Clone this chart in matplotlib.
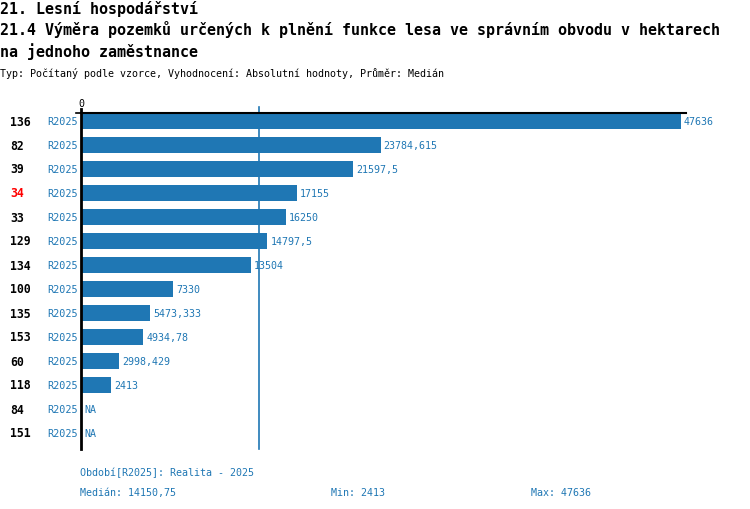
import matplotlib
matplotlib.use("Agg")
import matplotlib.pyplot as plt
import numpy as np

# ---- data ----
unit_ids = ["136", "82", "39", "34", "33", "129", "134", "100", "135", "153", "60", "118", "84", "151"]
period_labels = ["R2025"] * 14
values = [47636, 23784.615, 21597.5, 17155, 16250, 14797.5, 13504, 7330,
          5473.333, 4934.78, 2998.429, 2413, np.nan, np.nan]
value_texts = ["47636", "23784,615", "21597,5", "17155", "16250", "14797,5", "13504", "7330",
               "5473,333", "4934,78", "2998,429", "2413", "NA", "NA"]
highlight_id = "34"
median_value = 14150.75
title1 = "21. Lesní hospodářství"
title2 = "21.4 Výměra pozemků určených k plnění funkce lesa ve správním obvodu v hektarech"
title3 = "na jednoho zaměstnance"
subtitle = "Typ: Počítaný podle vzorce, Vyhodnocení: Absolutní hodnoty, Průměr: Medián"
period_note = "Období[R2025]: Realita - 2025"
stat_median = "Medián: 14150,75"
stat_min = "Min: 2413"
stat_max = "Max: 47636"

BLUE = "#1f77b4"
FONT = "DejaVu Sans Mono"
W, H = 750, 510

fig = plt.figure(figsize=(7.5, 5.1), dpi=100)

def fx(px):
    return px / W

def fy(py):
    return 1 - py / H

# axes geometry (pixels)
ax_left, ax_right = 81, 685.6
ax_top, ax_bot = 110, 450
ax = fig.add_axes([fx(ax_left), fy(ax_bot), fx(ax_right - ax_left), (ax_bot - ax_top) / H])
xmax = 48000
n = len(values)
ax.set_xlim(0, xmax)
ax.set_ylim(n - 1 + 16 / 24, -0.5)
ax.axis("off")

y = np.arange(n)
vals = np.nan_to_num(np.array(values, dtype=float), nan=0.0)
ax.barh(y, vals, height=0.667, color=BLUE, zorder=2)

# median line
ax.plot([median_value, median_value], [n - 1 + 16 / 24, -0.5 - 2 / 24], color=BLUE, lw=1.2,
        clip_on=False, zorder=3)
# axis lines
ax.plot([0, 0], [n - 1 + 16 / 24, -0.5], color="black", lw=2, clip_on=False, zorder=4)
ax.plot([0, xmax], [-1 / 3, -1 / 3], color="black", lw=1.5, clip_on=False, zorder=4)
ax.plot([-xmax * 5 / 604.6, 0], [-1 / 3, -1 / 3], color="black", lw=1.2, clip_on=False, zorder=4)
ax.text(0, -0.5 - 3 / 24, "0", ha="center", va="baseline", fontsize=7.2, family=FONT,
        color="black", clip_on=False)

px_per_unit = (ax_right - ax_left) / xmax
off = 3 / px_per_unit
for i, (uid, per, v, t) in enumerate(zip(unit_ids, period_labels, vals, value_texts)):
    yc = 122 + 24 * i
    fig.text(fx(10), fy(yc), uid, ha="left", va="center", fontsize=8.3, family=FONT,
             fontweight="bold", color="red" if uid == highlight_id else "black")
    fig.text(fx(78), fy(yc), per, ha="right", va="center", fontsize=7.3, family=FONT, color=BLUE)
    ax.text(v + off, i, t, ha="left", va="center", fontsize=7.2, family=FONT, color=BLUE,
            clip_on=False)

# titles
fig.text(0, fy(14), title1, ha="left", va="baseline", fontsize=10.8, family=FONT, fontweight="bold")
fig.text(0, fy(35.5), title2, ha="left", va="baseline", fontsize=10.8, family=FONT, fontweight="bold")
fig.text(0, fy(57), title3, ha="left", va="baseline", fontsize=10.8, family=FONT, fontweight="bold")
fig.text(0, fy(77), subtitle, ha="left", va="baseline", fontsize=7.2, family=FONT)

# footer
fig.text(fx(80), fy(476), period_note, ha="left", va="baseline", fontsize=7.2, family=FONT, color=BLUE)
fig.text(fx(80), fy(496), stat_median, ha="left", va="baseline", fontsize=7.2, family=FONT, color=BLUE)
fig.text(fx(331), fy(496), stat_min, ha="left", va="baseline", fontsize=7.2, family=FONT, color=BLUE)
fig.text(fx(531), fy(496), stat_max, ha="left", va="baseline", fontsize=7.2, family=FONT, color=BLUE)

fig.savefig("out.png", dpi=100)
